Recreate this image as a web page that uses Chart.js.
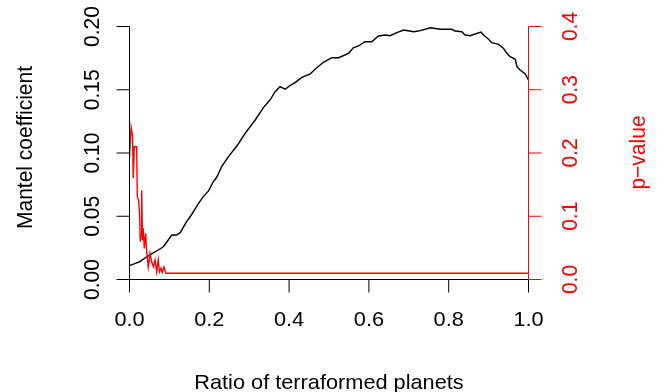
<!DOCTYPE html>
<html>
<head>
<meta charset="utf-8">
<script src="https://cdn.jsdelivr.net/npm/chart.js@4"></script>
<style>
  html, body { margin: 0; padding: 0; background: #ffffff; }
  #wrap { width: 667px; height: 392px; }
</style>
</head>
<body>
<div id="wrap"><canvas id="c" width="667" height="392"></canvas></div>
<script>
// Mantel correlogram along the terraforming ratio
const mantelRatio = [
  0.000, 0.026, 0.043, 0.051, 0.072, 0.085, 0.106, 0.118, 0.127, 0.143,
  0.152, 0.173, 0.185, 0.198, 0.210, 0.219, 0.231, 0.248, 0.269, 0.290,
  0.315, 0.336, 0.352, 0.365, 0.377, 0.390, 0.402, 0.415, 0.432, 0.453,
  0.465, 0.486, 0.507, 0.524, 0.549, 0.561, 0.574, 0.590, 0.607, 0.624,
  0.641, 0.653, 0.670, 0.687, 0.702, 0.712, 0.724, 0.754, 0.779, 0.808,
  0.816, 0.833, 0.841, 0.854, 0.866, 0.881, 0.887, 0.900, 0.908, 0.925,
  0.937, 0.946, 0.954, 0.967, 0.971, 0.979, 0.992, 1.000
];
const mantelCoef = [
  0.0109, 0.0141, 0.0180, 0.0194, 0.0233, 0.0259, 0.0352, 0.0352, 0.0370, 0.0457,
  0.0496, 0.0602, 0.0655, 0.0700, 0.0773, 0.0810, 0.0892, 0.0971, 0.1055, 0.1156,
  0.1261, 0.1361, 0.1419, 0.1485, 0.1524, 0.1504, 0.1532, 0.1556, 0.1598, 0.1625,
  0.1662, 0.1717, 0.1753, 0.1753, 0.1788, 0.1832, 0.1846, 0.1880, 0.1880, 0.1925,
  0.1933, 0.1927, 0.1951, 0.1972, 0.1964, 0.1959, 0.1964, 0.1990, 0.1978, 0.1978,
  0.1964, 0.1959, 0.1933, 0.1927, 0.1941, 0.1956, 0.1933, 0.1899, 0.1872, 0.1859,
  0.1828, 0.1788, 0.1761, 0.1741, 0.1682, 0.1656, 0.1625, 0.1577
];

// Permutation p-values
const pRatio = [
  0.000, 0.004, 0.0075, 0.0095, 0.012, 0.018, 0.0195, 0.0225, 0.0255, 0.027,
  0.029, 0.0305, 0.0325, 0.0345, 0.037, 0.0405, 0.043, 0.047, 0.0515, 0.0555,
  0.060, 0.064, 0.068, 0.072, 0.075, 0.079, 0.082, 0.0865, 0.091, 1.000
];
const pValue = [
  0.192, 0.241, 0.228, 0.160, 0.210, 0.210, 0.131, 0.126, 0.102, 0.060,
  0.070, 0.141, 0.062, 0.081, 0.049, 0.073, 0.044, 0.020, 0.041, 0.028,
  0.020, 0.031, 0.012, 0.031, 0.012, 0.018, 0.011, 0.020, 0.010, 0.010
];

// Axis ticks and their labels
const xTicks = [0, 0.2, 0.4, 0.6, 0.8, 1.0];
const xTickLabels = ['0.0', '0.2', '0.4', '0.6', '0.8', '1.0'];
const leftTicks = [0, 0.05, 0.10, 0.15, 0.20];
const leftTickLabels = ['0.00', '0.05', '0.10', '0.15', '0.20'];
const rightTicks = [0, 0.1, 0.2, 0.3, 0.4];
const rightTickLabels = ['0.0', '0.1', '0.2', '0.3', '0.4'];

const FONT = '21px "Liberation Sans", Arial, Helvetica, sans-serif';
const RED = '#ff0000';
const TICK = 13;
const WIDEN = 1.035; // glyphs run slightly wide horizontally

function hText(ctx, txt, x, y) {
  ctx.save();
  ctx.translate(x, y);
  ctx.scale(WIDEN, 1);
  ctx.fillText(txt, 0, 0);
  ctx.restore();
}

function vText(ctx, txt, x, y) {
  ctx.save();
  ctx.translate(x, y);
  ctx.scale(WIDEN, 1);
  ctx.rotate(-Math.PI / 2);
  ctx.fillText(txt, 0, 0);
  ctx.restore();
}

// Base-graphics style axes: open L-shaped frame with outward ticks
const baseAxes = {
  id: 'baseAxes',
  afterDatasetsDraw(chart) {
    const { ctx, scales } = chart;
    const sx = scales.x, sy = scales.y, sy1 = scales.y1;
    ctx.save();
    ctx.lineWidth = 1;
    ctx.font = FONT;
    ctx.textBaseline = 'alphabetic';
    ctx.textAlign = 'center';

    // bottom axis
    const yb = sy.getPixelForValue(0);
    ctx.strokeStyle = '#000000';
    ctx.beginPath();
    ctx.moveTo(sx.getPixelForValue(xTicks[0]), yb);
    ctx.lineTo(sx.getPixelForValue(xTicks[xTicks.length - 1]), yb);
    xTicks.forEach(t => {
      const px = sx.getPixelForValue(t);
      ctx.moveTo(px, yb);
      ctx.lineTo(px, yb + TICK);
    });
    ctx.stroke();
    ctx.fillStyle = '#000000';
    xTicks.forEach((t, i) => hText(ctx, xTickLabels[i], sx.getPixelForValue(t), 326));
    hText(ctx, 'Ratio of terraformed planets', (sx.left + sx.right) / 2, 388.5);

    // left axis
    const xl = sx.getPixelForValue(0);
    ctx.beginPath();
    ctx.moveTo(xl, sy.getPixelForValue(leftTicks[0]));
    ctx.lineTo(xl, sy.getPixelForValue(leftTicks[leftTicks.length - 1]));
    leftTicks.forEach(t => {
      const py = sy.getPixelForValue(t);
      ctx.moveTo(xl, py);
      ctx.lineTo(xl - TICK, py);
    });
    ctx.stroke();
    leftTicks.forEach((t, i) => vText(ctx, leftTickLabels[i], 98.5, sy.getPixelForValue(t)));
    vText(ctx, 'Mantel coefficient', 31.5, 147.5);

    // right axis
    const xr = sx.getPixelForValue(1);
    ctx.strokeStyle = RED;
    ctx.fillStyle = RED;
    ctx.beginPath();
    ctx.moveTo(xr, sy1.getPixelForValue(rightTicks[0]));
    ctx.lineTo(xr, sy1.getPixelForValue(rightTicks[rightTicks.length - 1]));
    rightTicks.forEach(t => {
      const py = sy1.getPixelForValue(t);
      ctx.moveTo(xr, py);
      ctx.lineTo(xr + TICK, py);
    });
    ctx.stroke();
    rightTicks.forEach((t, i) => vText(ctx, rightTickLabels[i], 577, sy1.getPixelForValue(t)));
    vText(ctx, 'p\u2212value', 645, 152.5);

    ctx.restore();
  }
};

new Chart(document.getElementById('c'), {
  type: 'line',
  data: {
    datasets: [
      {
        label: 'Mantel coefficient',
        data: mantelRatio.map((r, i) => ({ x: r, y: mantelCoef[i] })),
        yAxisID: 'y',
        borderColor: '#000000',
        borderWidth: 1.4,
        pointRadius: 0,
        tension: 0,
        fill: false,
        order: 2
      },
      {
        label: 'p-value',
        data: pRatio.map((r, i) => ({ x: r, y: pValue[i] })),
        yAxisID: 'y1',
        borderColor: RED,
        borderWidth: 1.4,
        pointRadius: 0,
        tension: 0,
        fill: false,
        order: 1
      }
    ]
  },
  options: {
    responsive: false,
    animation: false,
    devicePixelRatio: 1,
    layout: { padding: { left: 129.5, right: 138.5, top: 26.5, bottom: 112.5 } },
    plugins: { legend: { display: false }, tooltip: { enabled: false } },
    scales: {
      x: { type: 'linear', min: 0, max: 1, display: false },
      y: { type: 'linear', min: 0, max: 0.2, display: false },
      y1: { type: 'linear', min: 0, max: 0.4, display: false }
    }
  },
  plugins: [baseAxes]
});
</script>
</body>
</html>
